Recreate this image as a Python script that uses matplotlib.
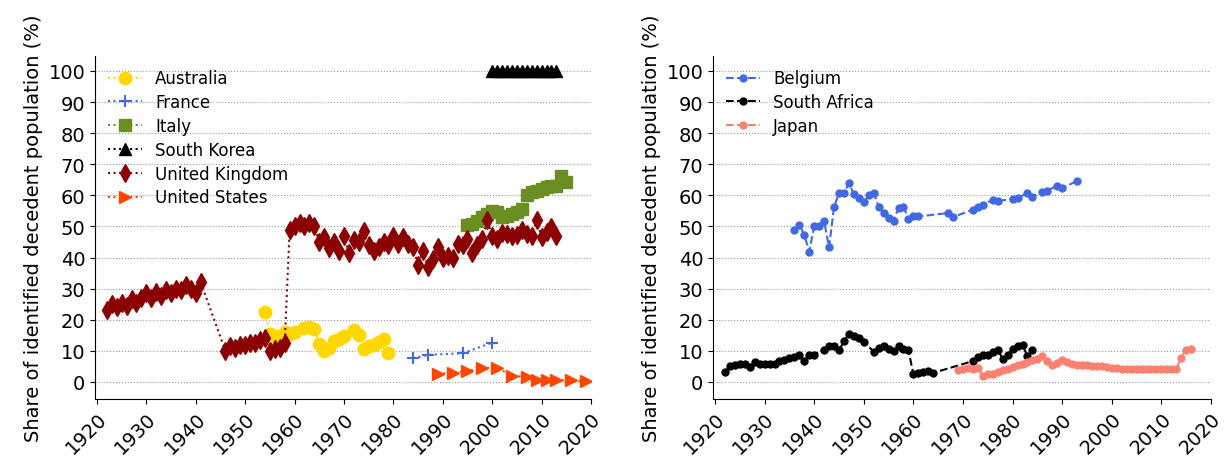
import numpy as np
import matplotlib
matplotlib.use("Agg")
import matplotlib.pyplot as plt

# ---- left panel data ----
aus_years = [1954, 1955, 1956, 1958, 1959, 1960, 1962, 1963, 1964, 1965, 1966, 1967,
             1968, 1969, 1970, 1972, 1973, 1974, 1975, 1976, 1977, 1978, 1979]
aus_vals = [22.6, 15.4, 14.9, 16.2, 15.4, 16.0, 17.2, 17.5, 17.0, 12.2, 10.0, 11.0,
            13.3, 13.8, 14.9, 16.8, 15.0, 10.6, 11.7, 12.0, 12.8, 13.8, 9.3]

fra_years = [1984, 1987, 1994, 2000]
fra_vals = [7.6, 8.7, 9.2, 12.6]

ita_years = list(range(1995, 2016))
ita_vals = [50.4, 50.8, 51.9, 53.0, 54.0, 55.0, 54.5, 53.0, 53.5, 54.0, 54.5,
            55.6, 60.0, 61.0, 61.5, 62.0, 62.6, 63.1, 63.0, 66.3, 64.2]

kor_years = list(range(2000, 2014))
kor_vals = [100] * 14

uk_years = list(range(1922, 1942)) + list(range(1946, 2014))
uk_vals = [23, 25, 24, 25.5, 24.5, 26.5, 25.5, 27, 28.5, 27, 29, 27.5, 29.5, 28.5,
           30, 29.5, 31, 30, 28.5, 32,
           10, 11.5, 11, 12, 12, 12.5, 12.5, 13.5, 14, 10, 10.5, 11, 12.5,
           49, 50, 51, 50, 51, 50, 45, 46.5, 43, 45, 42, 47, 41.5, 45.5, 45, 48.5,
           44, 42, 43.5, 45, 44, 47, 44.5, 46.5, 44.5, 43.5, 37.5, 42, 37, 39.5,
           43.5, 40, 40.5, 40, 44.5, 44, 46, 41.5, 44, 46, 52, 47, 46, 48, 47.5,
           47, 47.3, 48.7, 47.6, 47, 52, 46.5, 48.3, 49.7, 46.8]

us_years = [1989, 1992, 1995, 1998, 2001, 2004, 2007, 2009, 2011, 2013, 2016, 2019]
us_vals = [2.5, 3.0, 3.5, 4.5, 4.5, 2.0, 1.5, 0.5, 0.5, 0.5, 0.5, 0.2]

# ---- right panel data ----
bel_years = [1936, 1937, 1938, 1939, 1940, 1941, 1942, 1943, 1944, 1945, 1946, 1947,
             1948, 1949, 1950, 1951, 1952, 1953, 1954, 1955, 1956, 1957, 1958, 1959,
             1960, 1961, 1967, 1968, 1972, 1973, 1974, 1976, 1977, 1980, 1981, 1983,
             1984, 1986, 1987, 1989, 1990, 1993]
bel_vals = [48.9, 50.6, 47.3, 41.9, 50.0, 50.0, 51.6, 43.3, 56.2, 60.7, 60.7, 63.9,
            60.3, 59.0, 57.7, 60.0, 60.8, 56.3, 54.3, 52.7, 51.8, 56.0, 56.4, 52.4,
            53.5, 53.2, 54.3, 53.0, 55.4, 56.2, 56.9, 58.6, 58.2, 58.8, 59.2, 60.7,
            59.6, 61.2, 61.5, 63.1, 62.2, 64.7]

sa_years = [1922, 1923, 1924, 1925, 1926, 1927, 1928, 1929, 1930, 1931, 1932, 1933,
            1934, 1935, 1936, 1937, 1938, 1939, 1940, 1942, 1943, 1944, 1945, 1946,
            1947, 1948, 1949, 1950, 1952, 1953, 1954, 1955, 1956, 1957, 1958, 1959,
            1960, 1961, 1962, 1963, 1964, 1972, 1973, 1974, 1975, 1976, 1977, 1978,
            1979, 1980, 1981, 1982, 1983, 1984]
sa_vals = [3.1, 5.1, 5.4, 5.6, 5.9, 4.7, 6.3, 5.8, 5.6, 5.6, 5.8, 6.7,
           7.2, 7.7, 8.1, 8.5, 6.7, 8.5, 8.8, 10.4, 11.5, 11.7, 10.1, 13.1,
           15.5, 14.7, 14.2, 12.9, 9.7, 10.8, 11.7, 10.6, 10.0, 11.6, 10.5, 10.2,
           2.4, 2.9, 3.1, 3.4, 2.9, 6.7, 8.1, 8.5, 8.8, 9.6, 10.4, 7.4,
           8.5, 10.6, 11.7, 11.8, 8.3, 10.2]

jp_years = list(range(1969, 2017))
jp_vals = [3.8, 4.3, 4.5, 4.3, 4.5, 2.0, 2.4, 2.7, 3.1, 3.7, 4.2, 4.7, 5.3, 5.8,
           6.3, 6.9, 7.4, 8.3, 6.7, 5.3, 6.1, 7.0, 6.5, 5.9, 5.3, 5.4, 5.3, 5.2,
           5.1, 5.0, 4.8, 4.6, 4.4, 4.3, 4.2, 4.2, 4.1, 4.1, 4.1, 4.1, 4.2, 4.2,
           4.2, 4.3, 4.3, 7.7, 10.4, 10.6]

plt.rcParams['font.family'] = 'DejaVu Sans'
plt.rcParams['font.size'] = 14

fig = plt.figure(figsize=(12.28, 4.6), dpi=100)
ax1 = fig.add_axes([95 / 1228, 60 / 460, 496 / 1228, 343 / 460])
ax2 = fig.add_axes([713 / 1228, 60 / 460, 498 / 1228, 343 / 460])

ms = 9
ax1.plot(aus_years, aus_vals, ':', marker='o', color='gold', ms=ms, label='Australia')
ax1.plot(fra_years, fra_vals, ':', marker='+', color='royalblue', ms=ms, mew=1.5, label='France')
ax1.plot(ita_years, ita_vals, ':', marker='s', color='olivedrab', ms=ms, label='Italy')
ax1.plot(kor_years, kor_vals, ':', marker='^', color='black', ms=ms, label='South Korea')
ax1.plot(uk_years, uk_vals, ':', marker='d', color='darkred', ms=ms, label='United Kingdom')
ax1.plot(us_years, us_vals, ':', marker='>', color='orangered', ms=ms, label='United States')

ax2.plot(bel_years, bel_vals, '--', marker='o', color='royalblue', ms=5, label='Belgium')
ax2.plot(sa_years, sa_vals, '--', marker='o', color='black', ms=5, label='South Africa')
ax2.plot(jp_years, jp_vals, '--', marker='o', color='salmon', ms=5, label='Japan')

for ax in (ax1, ax2):
    ax.set_xlim(1919.6, 2020)
    ax.set_ylim(-5.5, 104.8)
    ax.set_xticks(np.arange(1920, 2021, 10))
    ax.set_yticks(np.arange(0, 101, 10))
    ax.tick_params(axis='x', labelrotation=45)
    for lbl in ax.get_xticklabels():
        lbl.set_ha('right')
        lbl.set_rotation_mode('anchor')
    ax.grid(axis='y', linestyle=':', color='gray', linewidth=0.8, alpha=0.8)
    ax.set_axisbelow(True)
    ax.spines['top'].set_visible(False)
    ax.spines['right'].set_visible(False)
    ax.set_ylabel('Share of identified decedent population (%)')
    ax.legend(loc='upper left', frameon=False, fontsize=12, bbox_to_anchor=(0.0, 1.0),
              labelspacing=0.35, borderaxespad=0.4)

fig.savefig('out.png', dpi=100)
